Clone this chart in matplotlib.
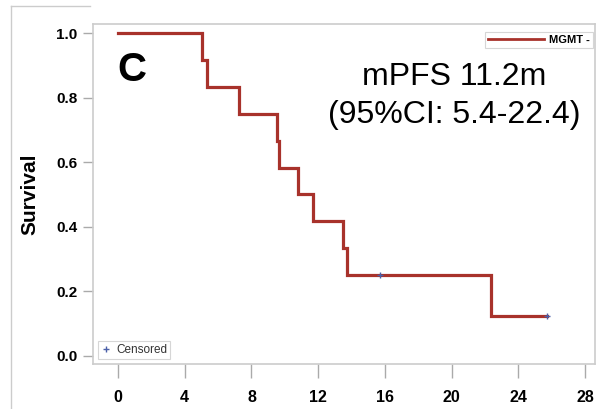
import numpy as np
import matplotlib
matplotlib.use("Agg")
import matplotlib.pyplot as plt
from matplotlib.lines import Line2D

# Data: follow-up times (months) and event indicator (1=progression, 0=censored)
times = [5.02, 5.32, 7.26, 9.52, 9.64, 10.82, 11.67, 13.52, 13.72, 15.72, 22.38, 25.72]
events = [1, 1, 1, 1, 1, 1, 1, 1, 1, 0, 1, 0]
x_ticks = [0, 4, 8, 12, 16, 20, 24, 28]
y_ticks = [0.0, 0.2, 0.4, 0.6, 0.8, 1.0]
series_name = "MGMT"
panel_label = "C"
annotation = "mPFS 11.2m\n(95%CI: 5.4-22.4)"

# Kaplan-Meier estimate
order = np.argsort(times)
t = np.array(times, dtype=float)[order]
e = np.array(events)[order]
n_at_risk = len(t)
surv = 1.0
step_x = [0.0]
step_y = [1.0]
cens_x, cens_y = [], []
for ti, ei in zip(t, e):
    if ei == 1:
        surv *= (n_at_risk - 1) / n_at_risk
        step_x.append(ti)
        step_y.append(surv)
    else:
        cens_x.append(ti)
        cens_y.append(surv)
    n_at_risk -= 1
step_x.append(t[-1])
step_y.append(surv)

plt.rcParams['font.family'] = ['Liberation Sans', 'DejaVu Sans']
fig = plt.figure(figsize=(6.03, 4.09), dpi=100)

W, H = 603, 409
left, right, top, bottom = 93, 595, 24, 364
ax = fig.add_axes([left / W, 1 - bottom / H, (right - left) / W, (bottom - top) / H])

red = '#A8322B'
ax.step(step_x, step_y, where='post', color=red, lw=2.3, solid_joinstyle='miter')
ax.plot(cens_x, cens_y, linestyle='none', marker='+', color='#4a5fa8', ms=5, mew=1.0)

ax.set_xlim(-1.5, 28.6)
ax.set_ylim(-0.025, 1.028)
ax.set_xticks(x_ticks)
ax.set_yticks(y_ticks)
ax.set_xticklabels([str(v) for v in x_ticks], fontsize=11.5, fontweight='bold')
ax.set_yticklabels([f"{v:.1f}" for v in y_ticks], fontsize=11, fontweight='bold')
ax.tick_params(axis='both', colors='#aaaaaa', labelcolor='black', width=1.0)
ax.tick_params(axis='x', length=10, pad=9)
ax.tick_params(axis='y', length=7, pad=4)
for s in ax.spines.values():
    s.set_color('#cccccc')
    s.set_linewidth(1.2)

ax.set_ylabel("Survival", fontsize=15, fontweight='bold', labelpad=12)

# panel letter
ax.text(117 / W, 1 - 70 / H, panel_label, transform=fig.transFigure, fontsize=29,
        fontweight='bold', ha='left', va='center')
# annotation
ax.text(454 / W, 1 - 96 / H, annotation, transform=fig.transFigure, fontsize=23,
        ha='center', va='center', linespacing=1.35)

# series legend (top right)
leg1 = ax.legend([Line2D([0], [0], color=red, lw=2)], [series_name + " -"], loc='upper right',
                 bbox_to_anchor=(593 / W, 1 - 32 / H), bbox_transform=fig.transFigure,
                 prop={'size': 8, 'weight': 'bold'}, frameon=True, fancybox=False,
                 handlelength=5.0, borderpad=0.25, handletextpad=0.5, borderaxespad=0)
leg1.get_frame().set_edgecolor('#cccccc')
leg1.get_frame().set_linewidth(0.8)
ax.add_artist(leg1)

# censored legend (bottom left)
leg2 = ax.legend([Line2D([0], [0], linestyle='none', marker='+', color='#4a5fa8', ms=5, mew=1.0)],
                 ["Censored"], loc='lower left',
                 bbox_to_anchor=(98 / W, 1 - 359 / H), bbox_transform=fig.transFigure,
                 prop={'size': 8.5}, frameon=True, fancybox=False,
                 handlelength=0.8, borderpad=0.25, handletextpad=0.5, borderaxespad=0)
leg2.get_frame().set_edgecolor('#cccccc')
leg2.get_frame().set_linewidth(0.8)
for txt in leg2.get_texts():
    txt.set_color('#333333')

# outer slide border fragment
fig.add_artist(Line2D([11 / W, 11 / W], [1 - 6 / H, 0], transform=fig.transFigure,
                      color='#cccccc', lw=1.0))
fig.add_artist(Line2D([11 / W, 90 / W], [1 - 6 / H, 1 - 6 / H], transform=fig.transFigure,
                      color='#cccccc', lw=1.0))

fig.savefig("out.png", dpi=100)
